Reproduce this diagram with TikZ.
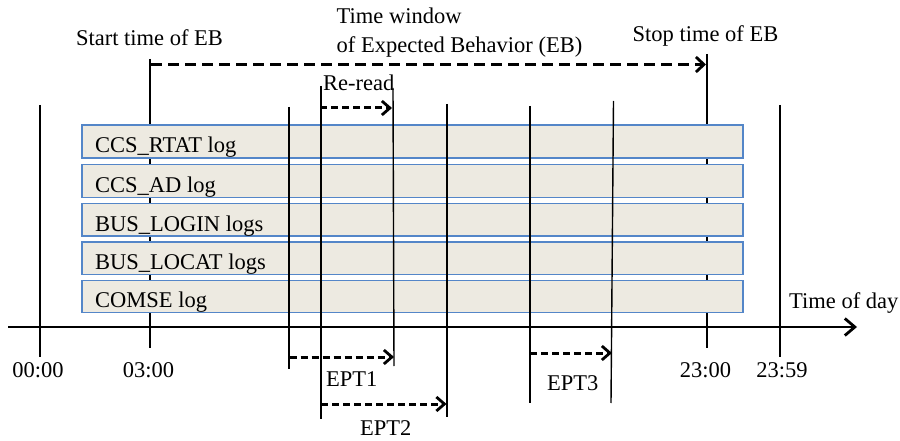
\documentclass[tikz,border=0pt]{standalone}
\usepackage{fontspec}
\setmainfont{Liberation Serif}
\usetikzlibrary{arrows.meta}
\definecolor{boxfill}{RGB}{237,234,225}
\definecolor{boxline}{RGB}{84,134,200}
\begin{document}
\begin{tikzpicture}[x=1pt,y=-1pt,
  lbl/.style={inner sep=0pt,font=\fontsize{22.5}{27}\selectfont},
  vline/.style={line width=1.4pt,black},
  logbox/.style={draw=boxline,fill=boxfill,line width=1.4pt},
  bigdash/.style={line width=3pt,dash pattern=on 11pt off 6pt,-{Straight Barb[length=8pt,width=15pt,line width=2.8pt]}},
  smalldash/.style={line width=3pt,dash pattern=on 7pt off 4pt,-{Straight Barb[length=8pt,width=14pt,line width=2.8pt]}},
  axisline/.style={line width=2.8pt,-{Straight Barb[length=10pt,width=17pt,line width=2.8pt]}}]
\useasboundingbox (0,0) rectangle (900,441);
% coordinates of the time lines
\coordinate (t0a) at (40,105);   \coordinate (t0b) at (40,357);
\coordinate (t3a) at (150,59);   \coordinate (t3b) at (150,348);
\coordinate (pa) at (289,107);   \coordinate (pb) at (289,369);
\coordinate (qa) at (321,86);    \coordinate (qb) at (321,419);
\coordinate (ra) at (393,88);    \coordinate (rb) at (394,366);
\coordinate (sa) at (447,104);   \coordinate (sb) at (447,417);
\coordinate (ua) at (530,106);   \coordinate (ub) at (530,403);
\coordinate (va) at (613.5,101); \coordinate (vb) at (611,403);
\coordinate (t23a) at (707,54);  \coordinate (t23b) at (707,348);
\coordinate (t59a) at (780,105); \coordinate (t59b) at (780,357);
% lines behind the boxes
\draw[vline] (t3a) -- (t3b);
\draw[vline] (t23a) -- (t23b);
% log boxes
\path[logbox] (82,125) rectangle (743,158);
\path[logbox] (82,164.5) rectangle (743,197.5);
\path[logbox] (82,203.5) rectangle (743,236);
\path[logbox] (82,242) rectangle (743,274.5);
\path[logbox] (82,280.5) rectangle (743,312.5);
\node[lbl,anchor=base west] (l1) at (95,153) {CCS\_RTAT log};
\node[lbl,anchor=base west] (l2) at (95,192.5) {CCS\_AD log};
\node[lbl,anchor=base west] (l3) at (95,231) {BUS\_LOGIN logs};
\node[lbl,anchor=base west] (l4) at (95,269.5) {BUS\_LOCAT logs};
\node[lbl,anchor=base west] (l5) at (95,307.5) {COMSE log};
% lines in front of the boxes
\draw[vline] (t0a) -- (t0b);
\draw[vline] (pa) -- (pb);
\draw[vline] (qa) -- (qb);
\draw[vline] (ra) -- (rb);
\draw[vline] (sa) -- (sb);
\draw[vline] (ua) -- (ub);
\draw[vline] (va) -- (vb);
\draw[vline] (t59a) -- (t59b);
% axis
\coordinate (axs) at (8,327);
\coordinate (axe) at (857,327);
\draw[axisline] (axs) -- (axe);
% dashed arrows
\coordinate (ebs) at (151,64.5);  \coordinate (ebe) at (706,64.5);
\draw[bigdash] (ebs) -- (ebe);
\coordinate (rrs) at (320,108);   \coordinate (rre) at (392,108);
\draw[smalldash] (rrs) -- (rre);
\coordinate (e1s) at (289.5,357); \coordinate (e1e) at (394,357);
\draw[smalldash] (e1s) -- (e1e);
\coordinate (e2s) at (321,404);   \coordinate (e2e) at (446.5,404);
\draw[smalldash] (e2s) -- (e2e);
\coordinate (e3s) at (530,353);   \coordinate (e3e) at (612,353);
\draw[smalldash] (e3s) -- (e3e);
% labels
\node[lbl,anchor=base] (st) at (149.5,46) {Start time of EB};
\node[lbl,anchor=base west] (tw1) at (336.5,24) {Time window};
\node[lbl,anchor=base west] (tw2) at (336.5,52.5) {of Expected Behavior (EB)};
\node[lbl,anchor=base west] (rr) at (323,91) {Re-read};
\node[lbl,anchor=base] (sp) at (705.5,42) {Stop time of EB};
\node[lbl,anchor=base west] (tod) at (789,308) {Time of day};
\node[lbl,anchor=base] (h0) at (38,377) {00:00};
\node[lbl,anchor=base] (h3) at (148.5,377) {03:00};
\node[lbl,anchor=base] (h23) at (705.5,377) {23:00};
\node[lbl,anchor=base] (h59) at (782,377) {23:59};
\node[lbl,anchor=base west] (ept1) at (326,386) {EPT1};
\node[lbl,anchor=base west] (ept2) at (360,435) {EPT2};
\node[lbl,anchor=base west] (ept3) at (547,390) {EPT3};
\end{tikzpicture}
\end{document}
